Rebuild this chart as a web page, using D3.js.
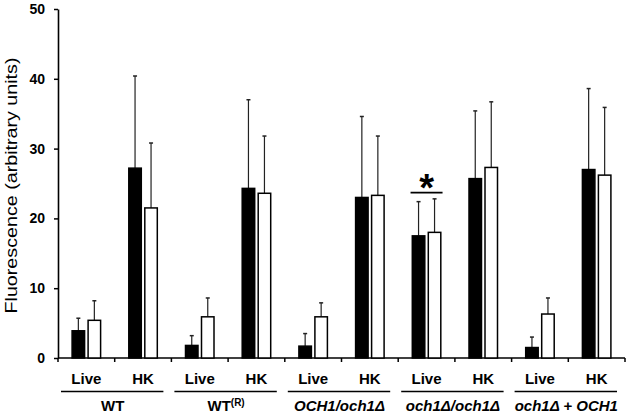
<!DOCTYPE html>
<html>
<head>
<meta charset="utf-8">
<script src="https://cdn.jsdelivr.net/npm/d3@7"></script>
<style>
  body { margin: 0; background: #fff; }
  text { font-family: Arial, "Liberation Sans", sans-serif; }
</style>
</head>
<body>
<script>
// strains, each with a Live and an HK pair of bars
const strains = ["WT", "WT(R)", "OCH1/och1Δ", "och1Δ/och1Δ", "och1Δ + OCH1"];
const conditions = ["Live", "HK"];
// one entry per category (strain x condition), in order
const blackMean = [3.9, 27.2, 1.8, 24.3, 1.7, 23.0, 17.5, 25.7, 1.5, 27.0];
const blackErr  = [1.8, 13.2, 1.4, 12.7, 1.8, 11.6, 4.9, 9.7, 1.5, 11.6];
const whiteMean = [5.4, 21.5, 5.9, 23.6, 5.9, 23.3, 18.0, 27.3, 6.3, 26.2];
const whiteErr  = [2.8, 9.3, 2.7, 8.2, 2.0, 8.5, 4.8, 9.4, 2.3, 9.7];
const yTicks = [0, 10, 20, 30, 40, 50];

const width = 630, height = 415;
const margin = {left: 58, right: 5, top: 9, bottom: 57};

const svg = d3.select("body").append("svg")
    .attr("width", width).attr("height", height);

const categories = [];
strains.forEach((s, i) => conditions.forEach(c => categories.push(i + "|" + c)));

const x = d3.scaleBand()
    .domain(categories)
    .range([margin.left, width - margin.right]);

const y = d3.scaleLinear()
    .domain([0, 50])
    .range([height - margin.bottom, margin.top]);

const barW = 14, gap = 2;

// y axis
const yAxis = svg.append("g")
    .attr("transform", `translate(${margin.left},0)`)
    .call(d3.axisLeft(y).tickValues(yTicks).tickSize(4).tickSizeOuter(0).tickPadding(9));
yAxis.select(".domain").attr("stroke-width", 1.6);
yAxis.selectAll(".tick line").attr("stroke-width", 1.5);
yAxis.selectAll(".tick text")
    .attr("font-size", 14).attr("font-weight", "bold").attr("fill", "#000");

// x axis: ticks at category boundaries
const bounds = categories.map(c => x(c)).concat([width - margin.right]);
svg.append("line")
    .attr("x1", margin.left).attr("x2", width - margin.right)
    .attr("y1", y(0)).attr("y2", y(0))
    .attr("stroke", "#000").attr("stroke-width", 1.6);
svg.selectAll(".xtick").data(bounds).join("line")
    .attr("class", "xtick")
    .attr("x1", d => d).attr("x2", d => d)
    .attr("y1", y(0)).attr("y2", y(0) + 4)
    .attr("stroke", "#000").attr("stroke-width", 1.5);

// bars and error bars
function drawSeries(means, errs, fill, offset) {
    const g = svg.append("g");
    const cx = (d, i) => x(categories[i]) + x.bandwidth() / 2 + offset;
    g.selectAll(".err").data(means).join("line")
        .attr("x1", cx).attr("x2", cx)
        .attr("y1", d => y(d))
        .attr("y2", (d, i) => y(d + errs[i]))
        .attr("stroke", "#222").attr("stroke-width", 1.2);
    g.selectAll(".cap").data(means).join("line")
        .attr("x1", (d, i) => cx(d, i) - 2).attr("x2", (d, i) => cx(d, i) + 2)
        .attr("y1", (d, i) => y(d + errs[i]))
        .attr("y2", (d, i) => y(d + errs[i]))
        .attr("stroke", "#222").attr("stroke-width", 1.5);
    g.selectAll("rect").data(means).join("rect")
        .attr("x", (d, i) => cx(d, i) - barW / 2 + 0.75)
        .attr("width", barW - 1.5)
        .attr("y", d => y(d))
        .attr("height", d => y(0) - y(d))
        .attr("fill", fill)
        .attr("stroke", "#000").attr("stroke-width", 1.5);
}
drawSeries(blackMean, blackErr, "#000", -(barW + gap) / 2);
drawSeries(whiteMean, whiteErr, "#fff", (barW + gap) / 2);

// condition labels
svg.selectAll(".cond").data(categories).join("text")
    .attr("class", "cond")
    .attr("x", d => x(d) + x.bandwidth() / 2)
    .attr("y", 384)
    .attr("text-anchor", "middle")
    .attr("font-size", 15).attr("font-weight", "bold")
    .text(d => d.split("|")[1]);

// group underlines
svg.selectAll(".uline").data(strains).join("line")
    .attr("class", "uline")
    .attr("x1", (d, i) => x(i + "|Live") + 3)
    .attr("x2", (d, i) => x(i + "|HK") + x.bandwidth() - 8)
    .attr("y1", 391.5).attr("y2", 391.5)
    .attr("stroke", "#000").attr("stroke-width", 1.5);

// strain labels (genotypes in italics)
const strainLabel = svg.selectAll(".strain").data(strains).join("text")
    .attr("class", "strain")
    .attr("x", (d, i) => (x(i + "|Live") + x(i + "|HK") + x.bandwidth()) / 2 - 2)
    .attr("y", 411)
    .attr("text-anchor", "middle")
    .attr("font-size", 15).attr("font-weight", "bold")
    .attr("font-style", (d, i) => i >= 2 ? "italic" : "normal");
strainLabel.each(function(d) {
    const t = d3.select(this);
    if (d === "WT(R)") {
        t.append("tspan").text("WT");
        t.append("tspan").attr("font-size", 10).attr("dy", -5).text("(R)");
    } else {
        t.text(d);
    }
});

// significance bracket over och1Δ/och1Δ Live
const sig = 6;
const sx1 = x(categories[sig]) + x.bandwidth() / 2 - (barW + gap) / 2 - barW / 2 - 1;
const sx2 = x(categories[sig]) + x.bandwidth() / 2 + (barW + gap) / 2 + barW / 2 + 1;
svg.append("line")
    .attr("x1", sx1).attr("x2", sx2)
    .attr("y1", y(23.7)).attr("y2", y(23.7))
    .attr("stroke", "#000").attr("stroke-width", 1.8);
svg.append("text")
    .attr("x", (sx1 + sx2) / 2).attr("y", y(23.7) + 8)
    .attr("text-anchor", "middle")
    .attr("font-size", 38).attr("font-weight", "bold")
    .text("*");

// y axis title
svg.append("text")
    .attr("transform", `translate(17,${(y(0) + y(50)) / 2 + 2}) rotate(-90)`)
    .attr("text-anchor", "middle")
    .attr("font-size", 16)
    .attr("textLength", 256)
    .attr("lengthAdjust", "spacingAndGlyphs")
    .text("Fluorescence (arbitrary units)");
</script>
</body>
</html>
